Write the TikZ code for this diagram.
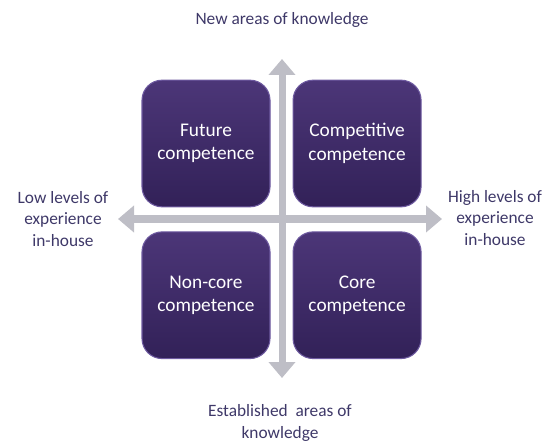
\documentclass[tikz,border=0pt]{standalone}
\usepackage{fontspec}
\setmainfont{Carlito}
\usetikzlibrary{arrows.meta,positioning}
\definecolor{quadtop}{RGB}{76,54,120}
\definecolor{quadbot}{RGB}{50,33,88}
\definecolor{quadrim}{RGB}{110,90,160}
\definecolor{axisgray}{RGB}{190,190,198}
\definecolor{labelink}{RGB}{62,56,104}

\begin{document}
\begin{tikzpicture}[x=0.75pt, y=-0.75pt, >={Triangle[width=19.5pt,length=12pt]},
  quad/.style={rounded corners=15pt, top color=quadtop, bottom color=quadbot, draw=quadrim,
    line width=0.8pt, minimum width=96pt, minimum height=95pt, align=center,
    text=white, font=\fontsize{14.5}{17.5}\selectfont},
  axis/.style={->, line width=5.25pt, axisgray},
  axislabel/.style={align=center, text=labelink, font=\fontsize{13}{16}\selectfont}]
\useasboundingbox (0,0) rectangle (555,441);
% the four quadrants
\node[quad] (future) at (206,143.5) {Future\\competence};
\node[quad, right=16.5pt of future] (competitive) {Competitive\\competence};
\node[quad, below=18pt of future] (noncore) {Non-core\\competence};
\node[quad, right=16.5pt of noncore] (core) {Core\\competence};
% axes
\coordinate (centre) at (282,219);
\coordinate (knowtop) at (282,59);
\coordinate (knowbot) at (282,378);
\coordinate (explow) at (118,219);
\coordinate (exphigh) at (442,219);
\draw[axis] (centre) -- (explow);
\draw[axis] (centre) -- (exphigh);
\draw[axis] (centre) -- (knowtop);
\draw[axis] (centre) -- (knowbot);
% axis labels
\node[axislabel] (newareas) at (282,20) {New areas of knowledge};
\node[axislabel] (established) at (280,423) {Established\ \ areas of\\knowledge};
\node[axislabel] (lowexp) at (63,219) {Low levels of\\experience\\in-house};
\node[axislabel] (highexp) at (495,218) {High levels of\\experience\\in-house};
\end{tikzpicture}
\end{document}
